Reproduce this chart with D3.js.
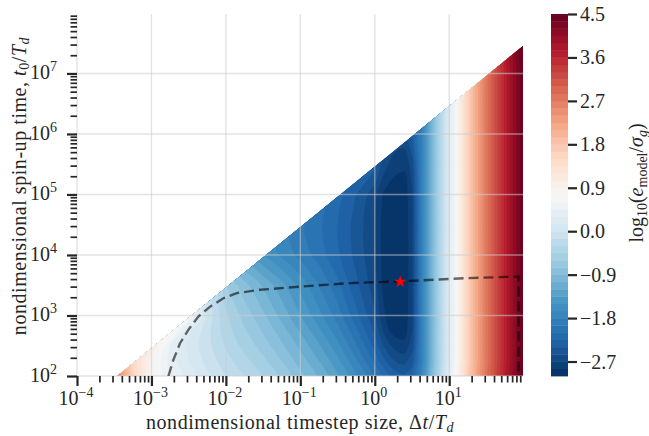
<!DOCTYPE html>
<html>
<head>
<meta charset="utf-8">
<script src="https://cdn.jsdelivr.net/npm/d3@7"></script>
<style>
  body { margin: 0; background: #fff; }
  svg text { font-family: "Liberation Serif", "Times New Roman", serif; fill: #262626; }
</style>
</head>
<body>
<svg id="chart" width="649" height="436"></svg>
<script>
// log10(e_model / sigma_g) sampled on a (log10 dt/Td) x (log10 t0/Td) grid
const logDt = [-3.5, -3.25, -3, -2.75, -2.5, -2.25, -2, -1.75, -1.5, -1.25, -1, -0.75, -0.5, -0.25,
               0, 0.1, 0.2, 0.3, 0.4, 0.5, 0.625, 0.75, 0.875, 1, 1.125, 1.25, 1.375, 1.5, 1.625, 1.75, 1.875, 2];
const logT0 = [2, 2.25, 2.5, 2.75, 3, 3.5, 4, 4.5, 5, 5.5, 6, 6.5, 7, 7.5];
const errRows = [
  [2.8, 1.55, 0.8, 0.45, 0.22, 0.03, -0.15, -0.3, -0.45, -0.64, -0.85, -1.08, -1.33, -1.62, -1.95, -2.1, -2.24, -2.33, -2.37, -2.3, -1.85, -1.1, -0.4, 0.25, 0.9, 1.6, 2.2, 2.75, 3.2, 3.65, 4.1, 4.5],
  [2.4, 1.5, 0.8, 0.4, 0.15, -0.05, -0.24, -0.4, -0.56, -0.75, -0.97, -1.2, -1.46, -1.78, -2.14, -2.33, -2.48, -2.58, -2.6, -2.47, -1.85, -1.1, -0.4, 0.25, 0.9, 1.6, 2.2, 2.75, 3.2, 3.65, 4.1, 4.5],
  [2.1, 1.55, 1.1, 0.45, 0.12, -0.1, -0.32, -0.5, -0.67, -0.87, -1.09, -1.33, -1.6, -1.93, -2.3, -2.52, -2.68, -2.78, -2.8, -2.62, -1.85, -1.1, -0.4, 0.25, 0.9, 1.6, 2.2, 2.75, 3.2, 3.65, 4.1, 4.5],
  [1.8, 1.45, 1.2, 0.95, 0.2, -0.1, -0.38, -0.58, -0.77, -0.98, -1.22, -1.47, -1.74, -2.07, -2.43, -2.68, -2.86, -2.92, -2.92, -2.7, -1.85, -1.1, -0.4, 0.25, 0.9, 1.6, 2.2, 2.75, 3.2, 3.65, 4.1, 4.5],
  [1.5, 1.3, 1.1, 0.95, 0.75, -0.05, -0.42, -0.66, -0.87, -1.1, -1.35, -1.6, -1.87, -2.2, -2.53, -2.79, -2.93, -2.96, -2.94, -2.74, -1.85, -1.1, -0.4, 0.25, 0.9, 1.6, 2.2, 2.75, 3.2, 3.65, 4.1, 4.5],
  [1.0, 0.8, 0.6, 0.4, 0.2, -0.1, -0.6, -0.85, -1.07, -1.3, -1.55, -1.8, -2.06, -2.36, -2.63, -2.86, -2.95, -2.97, -2.95, -2.75, -1.85, -1.1, -0.4, 0.25, 0.9, 1.6, 2.2, 2.75, 3.2, 3.65, 4.1, 4.5],
  [0.2, 0.0, -0.2, -0.4, -0.6, -0.8, -1.0, -1.25, -1.5, -1.68, -1.85, -2.02, -2.22, -2.45, -2.68, -2.88, -2.96, -2.97, -2.96, -2.75, -1.85, -1.1, -0.4, 0.25, 0.9, 1.6, 2.2, 2.75, 3.2, 3.65, 4.1, 4.5],
  [-0.3, -0.5, -0.7, -0.85, -1.0, -1.15, -1.3, -1.45, -1.6, -1.75, -1.92, -2.07, -2.25, -2.46, -2.69, -2.88, -2.96, -2.97, -2.95, -2.75, -1.85, -1.1, -0.4, 0.25, 0.9, 1.6, 2.2, 2.75, 3.2, 3.65, 4.1, 4.5],
  [-0.8, -0.9, -1.0, -1.1, -1.2, -1.3, -1.4, -1.5, -1.6, -1.7, -1.85, -2.0, -2.18, -2.4, -2.64, -2.85, -2.94, -2.95, -2.94, -2.72, -1.85, -1.1, -0.4, 0.25, 0.9, 1.6, 2.2, 2.75, 3.2, 3.65, 4.1, 4.5],
  [-1.3, -1.35, -1.4, -1.45, -1.5, -1.55, -1.6, -1.65, -1.7, -1.8, -1.9, -2.0, -2.1, -2.2, -2.35, -2.58, -2.72, -2.8, -2.82, -2.62, -1.85, -1.1, -0.4, 0.25, 0.9, 1.6, 2.2, 2.75, 3.2, 3.65, 4.1, 4.5],
  [-1.8, -1.82, -1.85, -1.88, -1.9, -1.92, -1.95, -1.98, -2.0, -2.03, -2.06, -2.1, -2.15, -2.2, -2.3, -2.42, -2.52, -2.58, -2.58, -2.35, -1.85, -1.1, -0.4, 0.25, 0.9, 1.6, 2.2, 2.75, 3.2, 3.65, 4.1, 4.5],
  [-2.3, -2.3, -2.3, -2.3, -2.3, -2.3, -2.3, -2.3, -2.3, -2.3, -2.3, -2.3, -2.3, -2.3, -2.3, -2.3, -2.3, -2.3, -2.3, -2.4, -1.85, -1.1, -0.4, 0.25, 0.9, 1.6, 2.2, 2.75, 3.2, 3.65, 4.1, 4.5],
  [-2.3, -2.3, -2.3, -2.3, -2.3, -2.3, -2.3, -2.3, -2.3, -2.3, -2.3, -2.3, -2.3, -2.3, -2.3, -2.3, -2.3, -2.3, -2.3, -2.4, -1.85, -1.1, -0.4, 0.25, 0.9, 1.6, 2.2, 2.75, 3.2, 3.65, 4.1, 4.5],
  [-2.3, -2.3, -2.3, -2.3, -2.3, -2.3, -2.3, -2.3, -2.3, -2.3, -2.3, -2.3, -2.3, -2.3, -2.3, -2.3, -2.3, -2.3, -2.3, -2.4, -1.85, -1.1, -0.4, 0.25, 0.9, 1.6, 2.2, 2.75, 3.2, 3.65, 4.1, 4.5]
];

// admissible runs: spin-up time at most this many timesteps
const maxStepRatio = 2.88e5;
const dtDomain = [1e-4, 98];
const t0Domain = [1e2, 9.6e7];

// filled contour levels and colour bar ticks
const levelMin = -3.0, levelMax = 4.5, levelStep = 0.15;
const cbarTicks = [4.5, 3.6, 2.7, 1.8, 0.9, 0.0, -0.9, -1.8, -2.7];
const cbarTickLabels = ["4.5", "3.6", "2.7", "1.8", "0.9", "0.0", "\u22120.9", "\u22121.8", "\u22122.7"];

// major ticks (exponents of ten)
const xTickExp = [-4, -3, -2, -1, 0, 1];
const yTickExp = [2, 3, 4, 5, 6, 7];

// frontier of the spin-up requirement
const frontierDt = [1.69e-3, 1.97e-3, 2.42e-3, 3.13e-3, 4.27e-3, 6.14e-3, 9.25e-3, 1.40e-2, 2.88e-2, 9.9e-2, 0.467, 1.98, 17.3, 85.5, 85.5];
const frontierT0 = [100, 184, 348, 578, 960, 1400, 1930, 2340, 2660, 3000, 3430, 3640, 4140, 4400, 100];

// selected configuration
const bestDt = [2.2];
const bestT0 = [3600];

// ---------------------------------------------------------------
const svg = d3.select("#chart");
const L = 77, T = 14, W = 446, H = 362;
const cbX = 551, cbW = 17;

const x = d3.scaleLog().domain(dtDomain).range([L, L + W]);
const y = d3.scaleLog().domain(t0Domain).range([T + H, T]);

const rdbuR = ["#053061", "#2166ac", "#4393c3", "#92c5de", "#d1e5f0", "#f7f7f7",
               "#fddbc7", "#f4a582", "#d6604d", "#b2182b", "#67001f"];
const cmap = d3.scaleLinear()
  .domain(rdbuR.map((_, i) => levelMin + (levelMax - levelMin) * i / (rdbuR.length - 1)))
  .range(rdbuR)
  .interpolate(d3.interpolateRgb);

const nBands = Math.round((levelMax - levelMin) / levelStep);
const levels = d3.range(nBands + 1).map(i => +(levelMin + i * levelStep).toFixed(4));

// contour generation on the index grid
const nx = logDt.length, ny = logT0.length;
const flat = [];
errRows.forEach(r => r.forEach(v => flat.push(v)));
const contours = d3.contours().size([nx, ny]).thresholds(levels.slice(0, -1))(flat);

const ix = d3.scaleLinear().domain(d3.range(nx)).range(logDt).clamp(true);
const iy = d3.scaleLinear().domain(d3.range(ny)).range(logT0).clamp(true);
const toPx = ([cx, cy]) => [x(Math.pow(10, ix(cx - 0.5))), y(Math.pow(10, iy(cy - 0.5)))];
const ringLine = d3.line().curve(d3.curveCatmullRomClosed.alpha(0.5));
const bandPath = mp => mp.coordinates
  .flatMap(poly => poly.map(ring => ringLine(ring.slice(0, -1).map(toPx))))
  .join("");

const defs = svg.append("defs");
defs.append("clipPath").attr("id", "plotClip")
  .append("rect").attr("x", L).attr("y", T).attr("width", W).attr("height", H);
const dtEnd = dtDomain[1];
defs.append("clipPath").attr("id", "validClip")
  .append("polygon")
  .attr("points", [
    [x(t0Domain[0] / maxStepRatio), y(t0Domain[0])],
    [x(dtEnd), y(t0Domain[0])],
    [x(dtEnd), y(maxStepRatio * dtEnd)]
  ].map(p => p.join(",")).join(" "));

const field = svg.append("g").attr("clip-path", "url(#plotClip)")
  .append("g").attr("clip-path", "url(#validClip)");
field.selectAll("path").data(contours).join("path")
  .attr("d", bandPath)
  .attr("fill-rule", "evenodd")
  .attr("fill", d => cmap(d.value + levelStep / 2))
  .attr("stroke", d => cmap(d.value + levelStep / 2))
  .attr("stroke-width", 0.3);

// grid
const grid = svg.append("g").attr("stroke", "#cccccc").attr("stroke-opacity", 0.55).attr("stroke-width", 1.4);
grid.selectAll(".gx").data(xTickExp).join("line")
  .attr("x1", d => x(Math.pow(10, d))).attr("x2", d => x(Math.pow(10, d)))
  .attr("y1", T).attr("y2", T + H);
grid.selectAll(".gy").data(yTickExp).join("line")
  .attr("y1", d => y(Math.pow(10, d))).attr("y2", d => y(Math.pow(10, d)))
  .attr("x1", L).attr("x2", L + W);

// frontier
const line = d3.line().x((d, i) => x(frontierDt[i])).y((d, i) => y(frontierT0[i]));
svg.append("g").attr("clip-path", "url(#plotClip)")
  .append("path")
  .attr("d", line(frontierDt))
  .attr("fill", "none")
  .attr("stroke", "#000")
  .attr("stroke-opacity", 0.58)
  .attr("stroke-width", 2.4)
  .attr("stroke-dasharray", "10,5");

// selected point
svg.selectAll(".best").data(bestDt).join("path")
  .attr("transform", (d, i) => `translate(${x(d)},${y(bestT0[i])})`)
  .attr("d", d3.symbol(d3.symbolStar).size(50))
  .attr("fill", "#ff0000");

// axes ticks
function styleAxis(g, w) {
  g.select(".domain").remove();
  g.selectAll(".tick line").attr("stroke", "#262626").attr("stroke-width", w);
  g.selectAll(".tick text").remove();
}
const xMaj = xTickExp.map(e => Math.pow(10, e));
const yMaj = yTickExp.map(e => Math.pow(10, e));
const isPow = v => Math.abs(Math.log10(v) - Math.round(Math.log10(v))) < 1e-9;
const xMinor = x.ticks(60).filter(v => !isPow(v));
const yMinor = y.ticks(60).filter(v => !isPow(v));

svg.append("g").attr("transform", `translate(0,${T + H})`)
  .call(d3.axisBottom(x).tickValues(xMinor).tickSize(6.5).tickFormat(""))
  .call(g => styleAxis(g, 1.7));
svg.append("g").attr("transform", `translate(0,${T + H})`)
  .call(d3.axisBottom(x).tickValues(xMaj).tickSize(10).tickFormat(""))
  .call(g => styleAxis(g, 2.2));
svg.append("g").attr("transform", `translate(${L},0)`)
  .call(d3.axisLeft(y).tickValues(yMinor).tickSize(6.5).tickFormat(""))
  .call(g => styleAxis(g, 1.7));
svg.append("g").attr("transform", `translate(${L},0)`)
  .call(d3.axisLeft(y).tickValues(yMaj).tickSize(10).tickFormat(""))
  .call(g => styleAxis(g, 2.2));

function powText(t, e) {
  t.append("tspan").text("10");
  t.append("tspan").attr("dy", -8).attr("font-size", 14).text(e < 0 ? "\u2212" + (-e) : String(e));
}
svg.selectAll(".xl").data(xTickExp).join("text")
  .attr("x", d => x(Math.pow(10, d)) - 1).attr("y", 405)
  .attr("text-anchor", "middle").attr("font-size", 20)
  .each(function(d) { powText(d3.select(this), d); });
svg.selectAll(".yl").data(yTickExp).join("text")
  .attr("x", 57).attr("y", d => y(Math.pow(10, d)) + 6)
  .attr("text-anchor", "end").attr("font-size", 20)
  .each(function(d) { powText(d3.select(this), d); });

// axis labels
const xl = svg.append("text").attr("x", L + W / 2).attr("y", 429)
  .attr("text-anchor", "middle").attr("font-size", 20).attr("letter-spacing", 0.55);
xl.append("tspan").text("nondimensional timestep size, \u0394");
xl.append("tspan").attr("font-style", "italic").text("t");
xl.append("tspan").text("/");
xl.append("tspan").attr("font-style", "italic").text("T");
xl.append("tspan").attr("font-style", "italic").attr("font-size", 14).attr("dy", 3).text("d");

const yl = svg.append("text").attr("transform", "translate(26,186) rotate(-90)")
  .attr("text-anchor", "middle").attr("font-size", 20).attr("letter-spacing", 0.55);
yl.append("tspan").text("nondimensional spin-up time, ");
yl.append("tspan").attr("font-style", "italic").text("t");
yl.append("tspan").attr("font-size", 14).attr("dy", 3).text("0");
yl.append("tspan").attr("dy", -3).text("/");
yl.append("tspan").attr("font-style", "italic").text("T");
yl.append("tspan").attr("font-style", "italic").attr("font-size", 14).attr("dy", 3).text("d");

// colour bar
const cy = d3.scaleLinear().domain([levelMin, levelMax]).range([T + H, T]);
const cb = svg.append("g");
cb.selectAll("rect").data(levels.slice(0, -1)).join("rect")
  .attr("x", cbX).attr("width", cbW)
  .attr("y", d => cy(d + levelStep)).attr("height", d => cy(d) - cy(d + levelStep) + 0.4)
  .attr("fill", d => cmap(d + levelStep / 2));
svg.append("g").attr("transform", `translate(${cbX + cbW},0)`)
  .call(d3.axisRight(cy).tickValues(cbarTicks).tickSize(9).tickFormat(""))
  .call(g => styleAxis(g, 2.2));
svg.selectAll(".cl").data(cbarTicks).join("text")
  .attr("x", 580).attr("y", d => cy(d) + 7)
  .attr("font-size", 20)
  .text((d, i) => cbarTickLabels[i]);

const cl = svg.append("text").attr("transform", "translate(643,183) rotate(-90)")
  .attr("text-anchor", "middle").attr("font-size", 20);
cl.append("tspan").text("log");
cl.append("tspan").attr("font-size", 14).attr("dy", 4).text("10");
cl.append("tspan").attr("dy", -4).text("(");
cl.append("tspan").attr("font-style", "italic").text("e");
cl.append("tspan").attr("font-size", 14).attr("dy", 4).text("model");
cl.append("tspan").attr("dy", -4).text("/");
cl.append("tspan").attr("font-style", "italic").text("\u03c3");
cl.append("tspan").attr("font-style", "italic").attr("font-size", 14).attr("dy", 4).text("g");
cl.append("tspan").attr("dy", -4).text(")");
</script>
</body>
</html>
